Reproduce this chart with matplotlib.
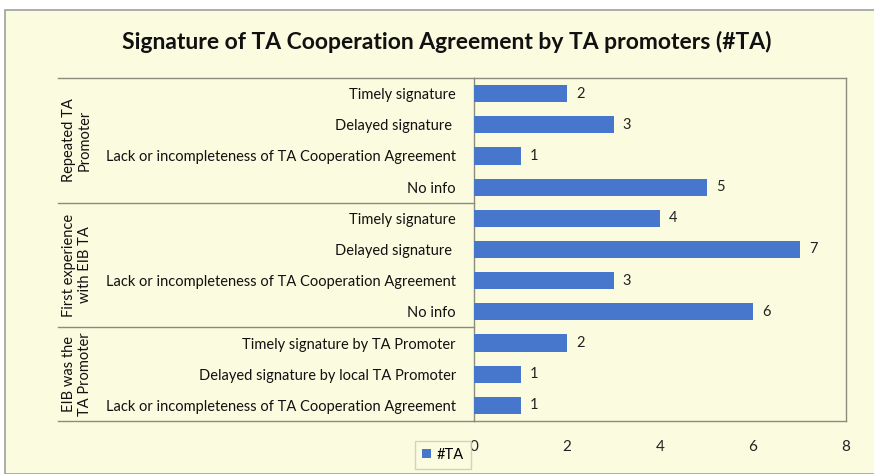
import matplotlib
matplotlib.use("Agg")
import matplotlib.pyplot as plt
from matplotlib.patches import Rectangle
import numpy as np

plt.rcParams['font.family'] = ['Lato', 'DejaVu Sans']

groups = ["Repeated TA\nPromoter", "First experience\nwith EIB TA", "EIB was the\nTA Promoter"]
group_sizes = [4, 4, 3]
categories = [
    "Timely signature", "Delayed signature ", "Lack or incompleteness of TA Cooperation Agreement", "No info",
    "Timely signature", "Delayed signature ", "Lack or incompleteness of TA Cooperation Agreement", "No info",
    "Timely signature by TA Promoter", "Delayed signature by local TA Promoter",
    "Lack or incompleteness of TA Cooperation Agreement",
]
counts = [2, 3, 1, 5, 4, 7, 3, 6, 2, 1, 1]
xticks = [0, 2, 4, 6, 8]

bg = '#FBFBE0'
bar_color = '#4677CC'
line_color = '#8C8C7A'

fig = plt.figure(figsize=(8.74, 4.74), dpi=100)
fig.patch.set_facecolor('white')
fig.patches.append(Rectangle((5 / 874, 0), 1, 1 - 10 / 474, transform=fig.transFigure,
                             facecolor=bg, edgecolor='#A0A0A0', linewidth=1.2, zorder=-10))

ax = fig.add_axes([474 / 874, 1 - 421 / 474, 372 / 874, 343 / 474])
ax.set_facecolor(bg)

y = np.arange(len(counts))
bars = ax.barh(y, counts, height=0.55, color=bar_color, zorder=3)
for yi, v in zip(y, counts):
    ax.text(v + 0.2, yi, str(v), va='center', ha='left', fontsize=10.5, color='#222222')

ax.set_ylim(len(counts) - 0.5, -0.5)
ax.set_xlim(0, 8)
ax.set_yticks(y)
ax.set_yticklabels(categories, fontsize=10.5, color='#111111')
ax.tick_params(axis='y', length=0, pad=13)
ax.set_xticks(xticks)
ax.set_xticklabels([str(t) for t in xticks], fontsize=11, color='#222222')
ax.tick_params(axis='x', length=0, pad=14)

for s in ax.spines.values():
    s.set_color(line_color)
    s.set_linewidth(1.0)

# group separators and group labels
tr = ax.get_yaxis_transform()
x_left = (58 - 474) / 372
bounds = np.concatenate([[0], np.cumsum(group_sizes)]) - 0.5
for b in bounds:
    ax.plot([x_left, 0], [b, b], transform=tr, color=line_color, linewidth=1.0, clip_on=False)
for g, lo, hi in zip(groups, bounds[:-1], bounds[1:]):
    ax.text((77 - 474) / 372, (lo + hi) / 2, g, transform=tr, rotation=90,
            ha='center', va='center', fontsize=10.5, color='#111111', linespacing=1.1)

fig.text(447 / 874, 1 - 42 / 474, "Signature of TA Cooperation Agreement by TA promoters (#TA)",
         ha='center', va='center', fontsize=16.5, fontweight='bold', color='#111111')

handle = Rectangle((0, 0), 1, 1, facecolor=bar_color)
leg = fig.legend([handle], ["#TA"], loc='center', bbox_to_anchor=(443 / 874, 1 - 455 / 474),
                 fontsize=10.5, frameon=True, fancybox=False, handlelength=0.6, handleheight=0.6,
                 handletextpad=0.4, borderpad=0.5)
leg.get_frame().set_edgecolor('#C8C8B8')
leg.get_frame().set_facecolor(bg)

fig.savefig("out.png", dpi=100, facecolor=fig.get_facecolor())
